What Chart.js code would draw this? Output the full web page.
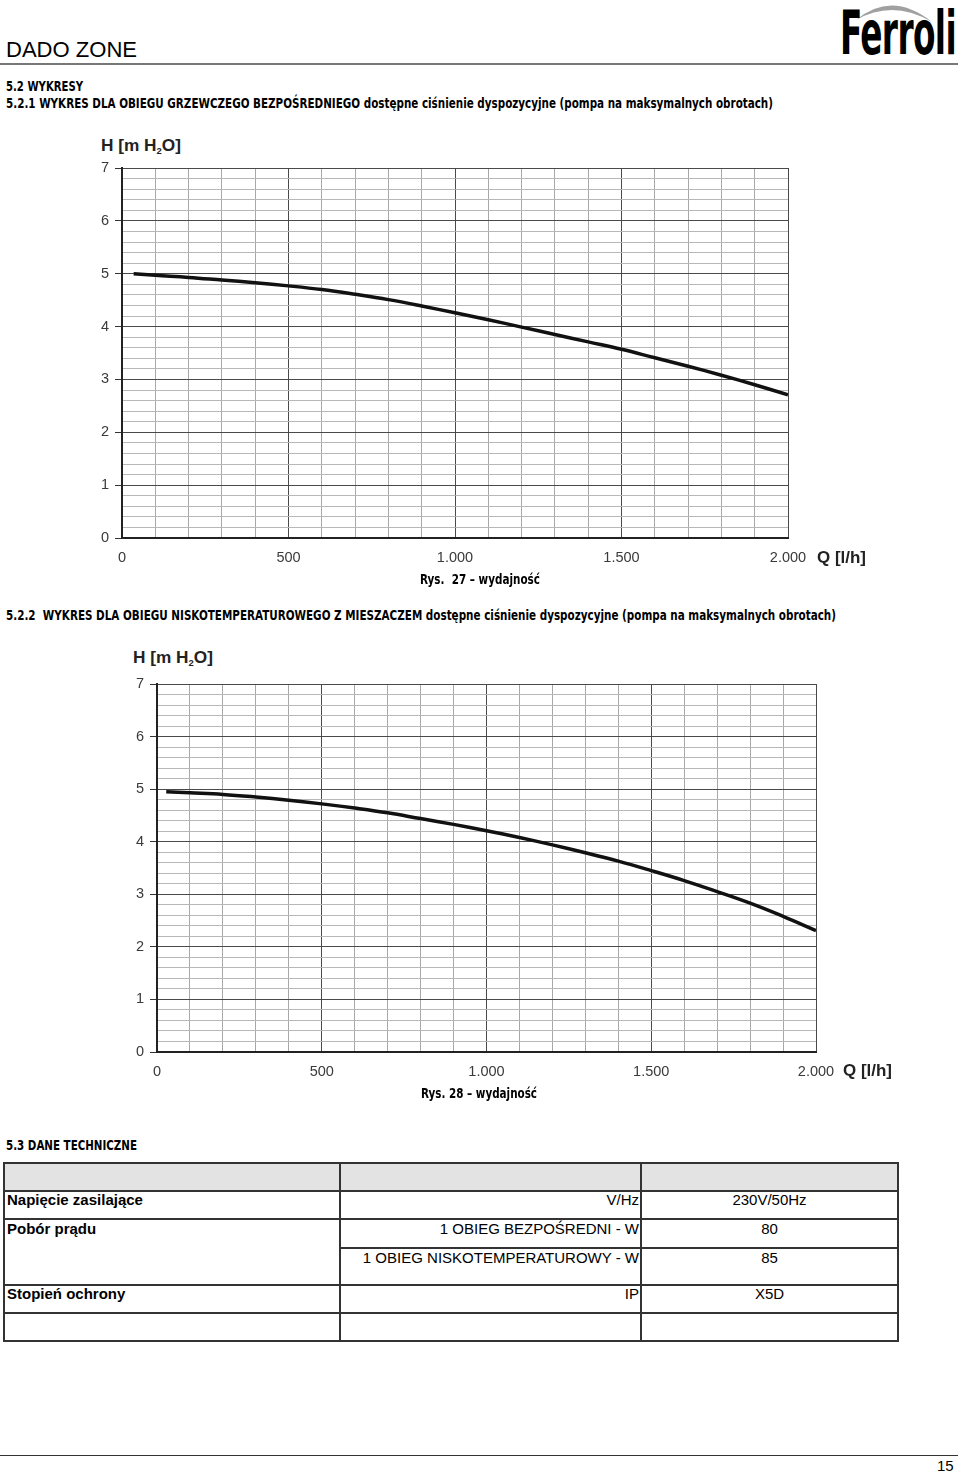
<!DOCTYPE html>
<html>
<head>
<meta charset="utf-8">
<script src="https://cdn.jsdelivr.net/npm/chart.js@4.4.1/dist/chart.umd.min.js"></script>
<style>
  html, body { margin:0; padding:0; background:#fff; }
  body { width:960px; height:1473px; position:relative; overflow:hidden; font-family:"Liberation Sans", Arial, sans-serif; color:#000; }
  .t { position:absolute; white-space:nowrap; line-height:20px; transform-origin:0 0; }
  .nb { font-family:"Liberation Sans Narrow","Arial Narrow","DejaVu Sans Condensed",sans-serif; font-weight:bold; font-size:14px; }
  .ax { font-weight:bold; font-size:16.5px; color:#222; }
  .ax sub { font-size:9px; vertical-align:-3px; }
  .hl { position:absolute; background:#333; }
  .cell { position:absolute; white-space:nowrap; line-height:20px; font-size:15px; }
  canvas { position:absolute; }
  .cw { position:absolute; }
</style>
</head>
<body>
<!-- header -->
<div class="t fit" data-w="131" style="left:6px; top:40px; font-size:22px;">DADO ZONE</div>
<svg style="position:absolute;left:0;top:0" width="960" height="70">
  <path d="M 856 20 Q 892 -10 932 22 Q 893 -1 856 20 Z" fill="#a0a0a0"/>
</svg>
<div class="t fit" data-w="116" style="left:840px; top:3px; font-size:60px; line-height:60px; font-family:'Liberation Sans Narrow','Arial Narrow','DejaVu Sans Condensed',sans-serif; font-weight:bold; letter-spacing:-1px;">Ferroli</div>
<div class="hl" style="left:0; top:63px; width:958px; height:2px; background:#777;"></div>

<div class="t nb fit" data-w="77" style="left:6px; top:76px;">5.2 WYKRESY</div>
<div class="t nb fit" data-w="767" style="left:6px; top:93px;">5.2.1 WYKRES DLA OBIEGU GRZEWCZEGO BEZPOŚREDNIEGO dostępne ciśnienie dyspozycyjne (pompa na maksymalnych obrotach)</div>

<!-- chart 1 -->
<div class="t ax fit" data-w="80" style="left:101px; top:135px;">H [m H<sub>2</sub>O]</div>
<div class="cw" style="left:80px; top:130px; width:800px; height:450px;"><canvas id="c1"></canvas></div>
<div class="t ax fit" data-w="49" style="left:817px; top:547px;">Q [l/h]</div>
<div class="t nb fit" data-w="120" style="left:420px; top:569px;">Rys.&nbsp; 27 – wydajność</div>

<div class="t nb fit" data-w="830" style="left:6px; top:605px;">5.2.2&nbsp; WYKRES DLA OBIEGU NISKOTEMPERATUROWEGO Z MIESZACZEM dostępne ciśnienie dyspozycyjne (pompa na maksymalnych obrotach)</div>

<!-- chart 2 -->
<div class="t ax fit" data-w="80" style="left:133px; top:647px;">H [m H<sub>2</sub>O]</div>
<div class="cw" style="left:115px; top:646px; width:800px; height:450px;"><canvas id="c2"></canvas></div>
<div class="t ax fit" data-w="49" style="left:843px; top:1060px;">Q [l/h]</div>
<div class="t nb fit" data-w="116" style="left:421px; top:1083px;">Rys. 28 – wydajność</div>

<div class="t nb fit" data-w="131" style="left:6px; top:1135px;">5.3 DANE TECHNICZNE</div>

<!-- table -->
<div class="hl" style="left:4px; top:1163px; width:893px; height:27px; background:#e3e3e3;"></div>
<div class="hl" style="left:3px; top:1162px; width:896px; height:2px;"></div>
<div class="hl" style="left:3px; top:1190px; width:896px; height:2px;"></div>
<div class="hl" style="left:3px; top:1218px; width:896px; height:2px;"></div>
<div class="hl" style="left:339px; top:1247px; width:560px; height:2px;"></div>
<div class="hl" style="left:3px; top:1284px; width:896px; height:2px;"></div>
<div class="hl" style="left:3px; top:1312px; width:896px; height:2px;"></div>
<div class="hl" style="left:3px; top:1340px; width:896px; height:2px;"></div>
<div class="hl" style="left:3px; top:1162px; width:2px; height:180px;"></div>
<div class="hl" style="left:339px; top:1162px; width:2px; height:180px;"></div>
<div class="hl" style="left:640px; top:1162px; width:2px; height:180px;"></div>
<div class="hl" style="left:897px; top:1162px; width:2px; height:180px;"></div>

<div class="cell" style="left:7px; top:1190px; font-weight:bold;">Napięcie zasilające</div>
<div class="cell" style="right:321px; top:1190px;">V/Hz</div>
<div class="cell" style="left:641px; width:257px; text-align:center; top:1190px;">230V/50Hz</div>
<div class="cell" style="left:7px; top:1219px; font-weight:bold;">Pobór prądu</div>
<div class="cell" style="right:321px; top:1219px;">1 OBIEG BEZPOŚREDNI - W</div>
<div class="cell" style="left:641px; width:257px; text-align:center; top:1219px;">80</div>
<div class="cell" style="right:321px; top:1248px;">1 OBIEG NISKOTEMPERATUROWY - W</div>
<div class="cell" style="left:641px; width:257px; text-align:center; top:1248px;">85</div>
<div class="cell" style="left:7px; top:1284px; font-weight:bold;">Stopień ochrony</div>
<div class="cell" style="right:321px; top:1284px;">IP</div>
<div class="cell" style="left:641px; width:257px; text-align:center; top:1284px;">X5D</div>

<!-- footer -->
<div class="hl" style="left:0; top:1455px; width:958px; height:1px;"></div>
<div class="t" style="left:937px; top:1456px; font-size:15px;">15</div>

<script>
// ---- data ----
const flowDirect = [35, 100, 200, 300, 400, 500, 600, 700, 800, 900, 1000, 1100, 1200, 1300, 1400, 1500, 1600, 1700, 1800, 1900, 2000];
const headDirect = [5.00, 4.97, 4.93, 4.88, 4.83, 4.77, 4.70, 4.61, 4.51, 4.39, 4.26, 4.13, 3.99, 3.85, 3.71, 3.57, 3.41, 3.25, 3.08, 2.90, 2.71];
const flowLowTemp = [28, 100, 200, 300, 400, 500, 600, 700, 800, 900, 1000, 1100, 1200, 1300, 1400, 1500, 1600, 1700, 1800, 1900, 2000];
const headLowTemp = [4.95, 4.93, 4.90, 4.85, 4.79, 4.72, 4.64, 4.55, 4.44, 4.33, 4.21, 4.08, 3.94, 3.79, 3.63, 3.45, 3.26, 3.05, 2.83, 2.58, 2.31];
const xMajorTicks = [0, 500, 1000, 1500, 2000];
const xTickLabels = ['0', '500', '1.000', '1.500', '2.000'];
const yTickLabels = ['0', '1', '2', '3', '4', '5', '6', '7'];

// fit text widths
document.querySelectorAll('.fit').forEach(el => {
  const w = parseFloat(el.dataset.w);
  const a = el.getBoundingClientRect().width;
  if (a > 0) el.style.transform = 'scaleX(' + (w / a) + ')';
});

function isMajorY(v) { return Math.abs(v - Math.round(v)) < 1e-6; }
function isMajorX(v) { return xMajorTicks.some(m => Math.abs(m - v) < 1e-6); }

function makeChart(id, xs, ys, rightPad, xAxisH) {
  const pts = xs.map((x, i) => ({x: x, y: ys[i]}));
  return new Chart(document.getElementById(id), {
    type: 'line',
    data: { datasets: [{ data: pts, borderColor: '#111', borderWidth: 3.5, pointRadius: 0, tension: 0.4, borderJoinStyle: 'round', borderCapStyle: 'butt', fill: false }] },
    options: {
      responsive: true, maintainAspectRatio: false, animation: false,
      layout: { padding: { top: 38, right: rightPad, left: 0, bottom: 0 } },
      plugins: { legend: { display: false }, tooltip: { enabled: false } },
      scales: {
        x: {
          type: 'linear', min: 0, max: 2000,
          afterFit: s => { s.height = xAxisH; },
          ticks: {
            stepSize: 100, autoSkip: false, maxRotation: 0, padding: 11,
            color: '#3a3a3a', font: { family: 'Liberation Sans', size: 14.5 },
            callback: v => { const i = xMajorTicks.findIndex(m => Math.abs(m - v) < 1e-6); return i >= 0 ? xTickLabels[i] : ''; }
          },
          grid: {
            drawTicks: false,
            color: c => isMajorX(c.tick.value) ? '#4a4a4a' : '#a8a8a8',
            lineWidth: 1
          },
          border: { display: true, color: '#222', width: 2 }
        },
        y: {
          min: 0, max: 7,
          afterFit: s => { s.width = 42; },
          ticks: {
            stepSize: 0.2, autoSkip: false, padding: 6,
            color: '#3a3a3a', font: { family: 'Liberation Sans', size: 14.5 },
            callback: v => isMajorY(v) ? yTickLabels[Math.round(v)] : ''
          },
          grid: {
            tickLength: 7,
            color: c => isMajorY(c.tick.value) ? '#4a4a4a' : '#b8b8b8',
            tickColor: c => isMajorY(c.tick.value) ? '#333' : 'rgba(0,0,0,0)',
            lineWidth: 1
          },
          border: { display: true, color: '#222', width: 2 }
        }
      }
    }
  });
}
makeChart('c1', flowDirect, headDirect, 92, 42);
makeChart('c2', flowLowTemp, headLowTemp, 99, 44);
</script>
</body>
</html>
